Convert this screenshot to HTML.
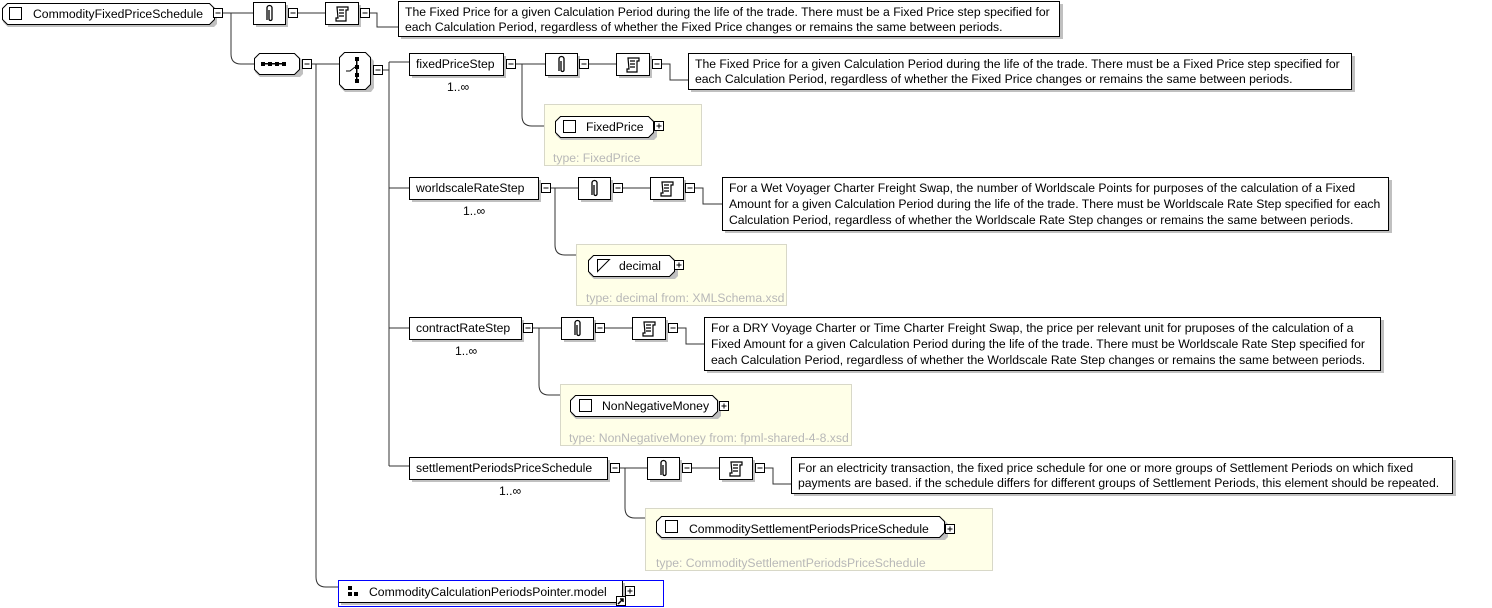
<!DOCTYPE html>
<html><head><meta charset="utf-8"><style>
html,body{margin:0;padding:0;background:#fff;width:1492px;height:608px;overflow:hidden}
svg{display:block}
text{font-family:"Liberation Sans",sans-serif;font-size:12.2px;fill:#000}
.t{fill:#b8b8b8}
.sh{fill:#c0c0c0}
.b{fill:#fff;stroke:#000;stroke-width:1}
.l{fill:none;stroke:#333;stroke-width:1}
.ty{fill:#ffffe8;stroke:#d8d8c8;stroke-width:1}
</style></head><body>
<svg width="1492" height="608" viewBox="0 0 1492 608">
<defs>
<g id="mi"><rect x="-4.5" y="-4.5" width="9" height="9" fill="#fff" stroke="#000"/><line x1="-2.5" y1="0" x2="2.5" y2="0" stroke="#000"/></g>
<g id="pl"><rect x="-4.5" y="-4.5" width="9" height="9" fill="#fff" stroke="#000"/><line x1="-2.5" y1="0" x2="2.5" y2="0" stroke="#000"/><line x1="0" y1="-2.5" x2="0" y2="2.5" stroke="#000"/></g>
<g id="an"><rect x="3" y="3" width="32" height="22" class="sh"/><rect x="0.5" y="0.5" width="32" height="22" class="b"/>
<path d="M14 18 V6 a2.5 2.5 0 0 1 5 0 V17 a1.5 1.5 0 0 1 -3 0 V8" fill="none" stroke="#000" stroke-width="1.3"/></g>
<g id="dc"><rect x="3" y="3" width="33" height="22" class="sh"/><rect x="0.5" y="0.5" width="33" height="22" class="b"/>
<path d="M12 5 h11 v3 h-2 v11 h-10 v-3 h2 z M14 8 h5 M14 11 h5 M14 14 h5" fill="none" stroke="#000" stroke-width="1.2"/></g>
</defs>

<g class="l">
<path d="M222 13 H253"/><path d="M298 13 H325"/><path d="M370 13 H377 V27 H398"/>
<path d="M231 13 V54 Q231 64 241 64 H254"/>
<path d="M312 64 H339"/><path d="M316 64 V577 Q316 587 326 587 H338"/>
<path d="M383 70 H389"/><path d="M389 62 V466"/>
<path d="M389 62 H409"/><path d="M389 188 H409"/><path d="M389 328 H409"/><path d="M389 466 H409"/>
<path d="M516 64 H545"/><path d="M589 64 H616"/><path d="M662 64 H670 V80 H688"/>
<path d="M522 64 V116 Q522 126 532 126 H544"/>
<path d="M551 188 H578"/><path d="M623 188 H650"/><path d="M695 188 H703 V204 H722"/>
<path d="M555 188 V245 Q555 255 565 255 H576"/>
<path d="M533 328 H561"/><path d="M605 328 H632"/><path d="M678 328 H686 V344 H704"/>
<path d="M539 328 V385 Q539 395 549 395 H560"/>
<path d="M620 468 H647"/><path d="M692 468 H719"/><path d="M765 468 H773 V484 H791"/>
<path d="M625 468 V508 Q625 518 635 518 H645"/>
</g>

<path d="M10 6 H212 l5 5 v13 l-3 3 H8 l-5 -5 v-11 z" class="sh"/>
<path d="M7.5 3.5 H209.5 l5 5 v11 l-5 5 H7.5 l-5 -5 v-11 z" class="b"/>
<rect x="9.5" y="7.5" width="12" height="12" class="b"/>
<text x="33" y="18">CommodityFixedPriceSchedule</text>
<use href="#mi" x="218" y="13"/>
<use href="#an" x="253" y="2"/><use href="#mi" x="293" y="13"/>
<use href="#dc" x="325" y="2"/><use href="#mi" x="365" y="13"/>
<rect x="401" y="4" width="662" height="35" class="sh"/><rect x="398.5" y="1.5" width="661" height="35" class="b"/>
<text x="405" y="16">The Fixed Price for a given Calculation Period during the life of the trade. There must be a Fixed Price step specified for</text>
<text x="405" y="31">each Calculation Period, regardless of whether the Fixed Price changes or remains the same between periods.</text>

<path d="M262 56 H298 l5 5 v13 l-3 3 H260 l-5 -5 v-11 z" class="sh"/>
<path d="M259.5 53.5 H294.5 l5 5 v11 l-5 5 H259.5 l-5 -5 v-11 z" class="b"/>
<g fill="#000"><rect x="261" y="62" width="4" height="4"/><rect x="268" y="62" width="4" height="4"/><rect x="275" y="62" width="4" height="4"/><rect x="282" y="62" width="4" height="4"/><rect x="261" y="63" width="25" height="1.5"/></g>
<use href="#mi" x="307" y="64"/>
<path d="M347 55 H368 l6 6 v27 l-3 4 H345 l-5 -5 v-27 z" class="sh"/>
<path d="M344.5 52.5 H365.5 l5 5 v27 l-5 5 H344.5 l-5 -5 v-27 z" class="b"/>
<g fill="#000"><rect x="356" y="57" width="1.5" height="25"/><rect x="355" y="57" width="4" height="4"/><rect x="355" y="65" width="4" height="4"/><rect x="355" y="73" width="4" height="4"/><rect x="355" y="79" width="4" height="4"/></g>
<path d="M346 71 h4 l5 -4" fill="none" stroke="#000"/>
<use href="#mi" x="378" y="70"/>

<rect x="412" y="56" width="94" height="22" class="sh"/><rect x="409.5" y="53.5" width="94" height="22" class="b"/>
<text x="416" y="68">fixedPriceStep</text><text x="447" y="91">1..∞</text>
<use href="#mi" x="511" y="64"/>
<use href="#an" x="545" y="53"/><use href="#mi" x="584" y="64"/>
<use href="#dc" x="616" y="53"/><use href="#mi" x="657" y="64"/>
<rect x="691" y="56" width="664" height="36" class="sh"/><rect x="688.5" y="53.5" width="663" height="36" class="b"/>
<text x="695" y="68">The Fixed Price for a given Calculation Period during the life of the trade. There must be a Fixed Price step specified for</text>
<text x="695" y="83">each Calculation Period, regardless of whether the Fixed Price changes or remains the same between periods.</text>
<rect x="544.5" y="104.5" width="157" height="61" class="ty"/>
<path d="M563 119 H652 l5 5 v13 l-3 3 H561 l-5 -5 v-11 z" class="sh"/>
<path d="M560.5 116.5 H648.5 l5 5 v11 l-5 5 H560.5 l-5 -5 v-11 z" class="b"/>
<rect x="563.5" y="120.5" width="12" height="12" class="b"/>
<text x="586" y="131">FixedPrice</text><use href="#pl" x="659" y="126"/>
<text x="553" y="162" class="t">type: FixedPrice</text>

<rect x="412" y="180" width="129" height="22" class="sh"/><rect x="409.5" y="177.5" width="129" height="22" class="b"/>
<text x="416" y="192">worldscaleRateStep</text><text x="463" y="215">1..∞</text>
<use href="#mi" x="546" y="188"/>
<use href="#an" x="578" y="177"/><use href="#mi" x="618" y="188"/>
<use href="#dc" x="650" y="177"/><use href="#mi" x="690" y="188"/>
<rect x="725" y="180" width="667" height="53" class="sh"/><rect x="722.5" y="177.5" width="666" height="53" class="b"/>
<text x="729" y="192">For a Wet Voyager Charter Freight Swap, the number of Worldscale Points for purposes of the calculation of a Fixed</text>
<text x="729" y="208">Amount for a given Calculation Period during the life of the trade. There must be Worldscale Rate Step specified for each</text>
<text x="729" y="224">Calculation Period, regardless of whether the Worldscale Rate Step changes or remains the same between periods.</text>
<rect x="576.5" y="244.5" width="210" height="61" class="ty"/>
<path d="M596 258 H673 l5 5 v13 l-3 3 H594 l-5 -5 v-11 z" class="sh"/>
<path d="M593.5 255.5 H669.5 l5 5 v11 l-5 5 H593.5 l-5 -5 v-11 z" class="b"/>
<path d="M597.5 259.5 h12 l-12 12 z" class="b"/>
<text x="619" y="270">decimal</text><use href="#pl" x="679" y="265"/>
<text x="586" y="302" class="t">type: decimal from: XMLSchema.xsd</text>

<rect x="412" y="320" width="112" height="22" class="sh"/><rect x="409.5" y="317.5" width="112" height="22" class="b"/>
<text x="416" y="332">contractRateStep</text><text x="455" y="355">1..∞</text>
<use href="#mi" x="528" y="328"/>
<use href="#an" x="561" y="317"/><use href="#mi" x="600" y="328"/>
<use href="#dc" x="632" y="317"/><use href="#mi" x="673" y="328"/>
<rect x="707" y="320" width="677" height="53" class="sh"/><rect x="704.5" y="317.5" width="676" height="53" class="b"/>
<text x="711" y="332">For a DRY Voyage Charter or Time Charter Freight Swap, the price per relevant unit for pruposes of the calculation of a</text>
<text x="711" y="348">Fixed Amount for a given Calculation Period during the life of the trade. There must be Worldscale Rate Step specified for</text>
<text x="711" y="364">each Calculation Period, regardless of whether the Worldscale Rate Step changes or remains the same between periods.</text>
<rect x="560.5" y="384.5" width="291" height="61" class="ty"/>
<path d="M578 398 H716 l5 5 v13 l-3 3 H576 l-5 -5 v-11 z" class="sh"/>
<path d="M575.5 395.5 H712.5 l5 5 v11 l-5 5 H575.5 l-5 -5 v-11 z" class="b"/>
<rect x="579.5" y="399.5" width="12" height="12" class="b"/>
<text x="602" y="410">NonNegativeMoney</text><use href="#pl" x="724" y="406"/>
<text x="569" y="442" class="t">type: NonNegativeMoney from: fpml-shared-4-8.xsd</text>

<rect x="412" y="460" width="198" height="22" class="sh"/><rect x="409.5" y="457.5" width="198" height="22" class="b"/>
<text x="416" y="472">settlementPeriodsPriceSchedule</text><text x="499" y="495">1..∞</text>
<use href="#mi" x="615" y="468"/>
<use href="#an" x="647" y="457"/><use href="#mi" x="687" y="468"/>
<use href="#dc" x="719" y="457"/><use href="#mi" x="760" y="468"/>
<rect x="794" y="460" width="662" height="36" class="sh"/><rect x="791.5" y="457.5" width="661" height="36" class="b"/>
<text x="798" y="472">For an electricity transaction, the fixed price schedule for one or more groups of Settlement Periods on which fixed</text>
<text x="798" y="487">payments are based. if the schedule differs for different groups of Settlement Periods, this element should be repeated.</text>
<rect x="645.5" y="508.5" width="347" height="62" class="ty"/>
<path d="M664 519 H943 l5 5 v13 l-3 3 H662 l-5 -5 v-11 z" class="sh"/>
<path d="M661.5 516.5 H939.5 l5 5 v11 l-5 5 H661.5 l-5 -5 v-11 z" class="b"/>
<rect x="665.5" y="520.5" width="12" height="12" class="b"/>
<text x="689" y="533">CommoditySettlementPeriodsPriceSchedule</text><use href="#pl" x="950" y="529"/>
<text x="656" y="567" class="t">type: CommoditySettlementPeriodsPriceSchedule</text>

<rect x="338.5" y="580.5" width="325" height="26" fill="#fff" stroke="#0000ff"/>
<rect x="341" y="583" width="284" height="22" class="sh"/>
<rect x="339.5" y="581.5" width="283" height="21" fill="#fff" stroke="none"/>
<line x1="339" y1="602.5" x2="623" y2="602.5" stroke="#000"/>
<line x1="622.5" y1="581" x2="622.5" y2="603" stroke="#000"/>
<g fill="#000"><rect x="348" y="586" width="4" height="4"/><rect x="348" y="592" width="4" height="4"/><rect x="354" y="592" width="4" height="4"/></g>
<text x="369" y="596">CommodityCalculationPeriodsPointer.model</text>
<rect x="616.5" y="596.5" width="9" height="9" class="b"/>
<path d="M618 604 l5 -5 M620 599 h3 v3" stroke="#000" stroke-width="1.5" fill="none"/>
<use href="#pl" x="630" y="591"/>
</svg>
</body></html>
